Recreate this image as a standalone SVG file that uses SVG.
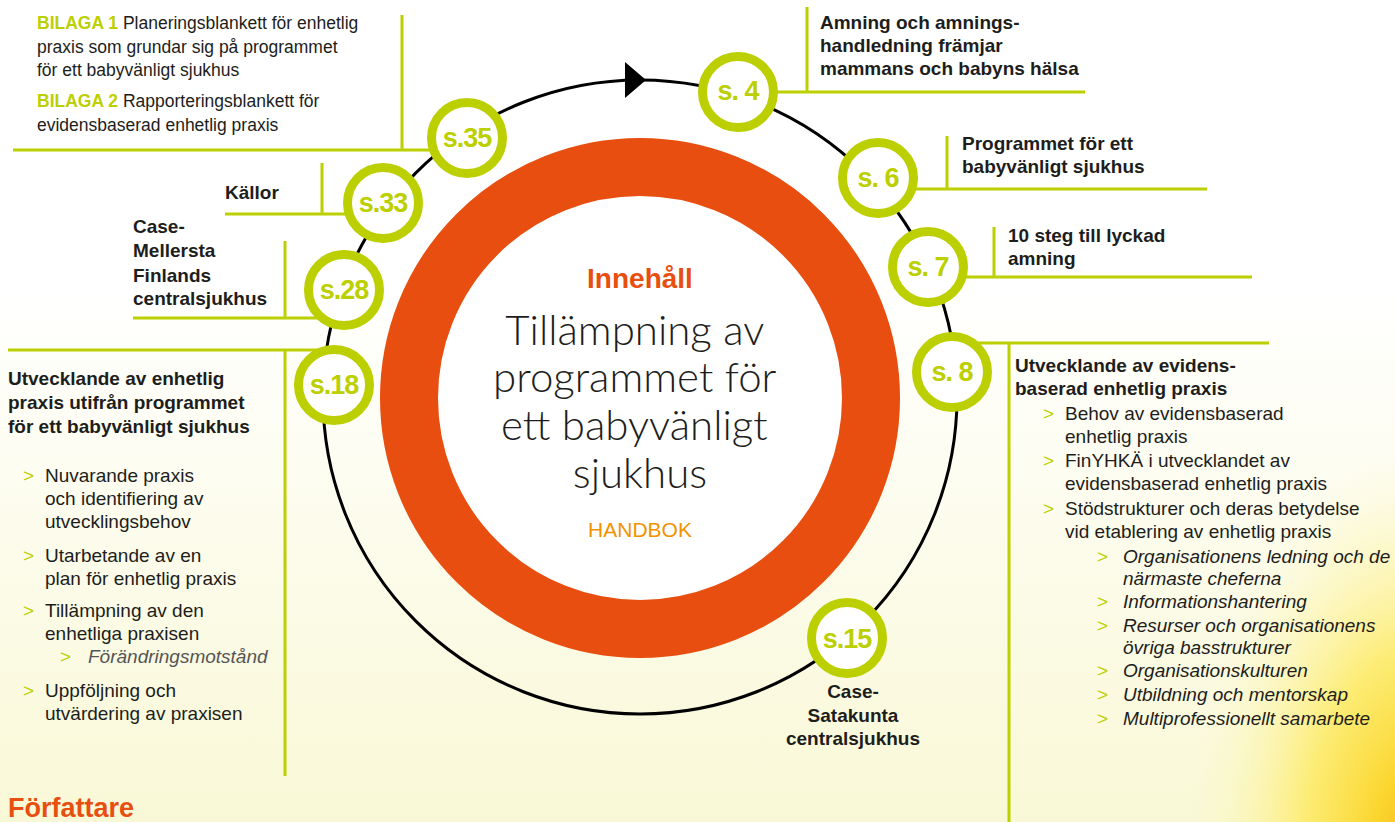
<svg xmlns="http://www.w3.org/2000/svg" width="1395" height="822" viewBox="0 0 1395 822">
<defs>
<linearGradient id="bg" x1="0" y1="0" x2="0" y2="1">
<stop offset="0" stop-color="#ffffff"/>
<stop offset="0.35" stop-color="#ffffff"/>
<stop offset="1" stop-color="#f9f8d6"/>
</linearGradient>
<radialGradient id="glow" cx="0.5" cy="0.5" r="0.5">
<stop offset="0" stop-color="#f6b324"/>
<stop offset="0.2" stop-color="#fbd52c"/>
<stop offset="0.5" stop-color="#fde95a" stop-opacity="0.8"/>
<stop offset="0.8" stop-color="#fdf4a0" stop-opacity="0.35"/>
<stop offset="1" stop-color="#fdf8c0" stop-opacity="0"/>
</radialGradient>
<style>
.conn{stroke:#bccf00;stroke-width:3;fill:none;stroke-linecap:butt}
.gc{fill:#ffffff;stroke:#bccf00;stroke-width:9}
.num{font-family:"Liberation Sans",Arial,sans-serif;font-weight:bold;font-size:27px;fill:#bccf00;text-anchor:middle;letter-spacing:-1px}
.hd{font-family:"Liberation Sans",Arial,sans-serif;font-weight:bold;font-size:19px;fill:#1d1d1b}
.bd{font-family:"Liberation Sans",Arial,sans-serif;font-size:19px;fill:#1d1d1b}
.it{font-family:"Liberation Sans",Arial,sans-serif;font-style:italic;font-size:19px;fill:#1d1d1b}
.sm{font-family:"Liberation Sans",Arial,sans-serif;font-size:17.5px;fill:#1d1d1b}
.gb{fill:#bccf00;font-weight:bold}
.ar{font-family:"Liberation Sans",Arial,sans-serif;font-size:19px;fill:#bccf00}
</style>
</defs>

<g id="background">
<rect x="0" y="0" width="1395" height="822" fill="url(#bg)"/>
<ellipse cx="1420" cy="850" rx="230" ry="400" fill="url(#glow)"/>
</g>

<g id="cycle">
<circle cx="640" cy="397" r="317" fill="none" stroke="#000000" stroke-width="3"/>
<polygon points="625,62 646,80 625,98" fill="#000000"/>
</g>

<g id="center">
<circle cx="640" cy="398" r="231" fill="#ffffff" stroke="#e84e10" stroke-width="58"/>
<text x="640" y="288" text-anchor="middle" font-family="'Liberation Sans',Arial,sans-serif" font-weight="bold" font-size="28" fill="#e84e10">Innehåll</text>
<text text-anchor="middle" font-family="Lato,'Liberation Sans',sans-serif" font-weight="300" font-size="42" fill="#1d1d1b">
<tspan x="640" y="345">Tillämpning av</tspan>
<tspan x="640" y="392">programmet för</tspan>
<tspan x="640" y="440">ett babyvänligt</tspan>
<tspan x="640" y="488">sjukhus</tspan>
</text>
<text x="640" y="537" text-anchor="middle" font-family="'Liberation Sans',Arial,sans-serif" font-size="21" fill="#f39200">HANDBOK</text>
</g>

<g id="connectors">
<path class="conn" d="M13,150 H467 M402,15 V150"/>
<path class="conn" d="M738,92 H1085 M807,7 V92"/>
<path class="conn" d="M878,189 H1207 M947,136 V189"/>
<path class="conn" d="M928,277 H1252 M994,227 V277"/>
<path class="conn" d="M952,343 H1269 M1009,343 V822"/>
<path class="conn" d="M225,214 H383 M322,163 V214"/>
<path class="conn" d="M133,318 H344 M285,241 V318"/>
<path class="conn" d="M8,350 H334 M285,350 V776"/>
</g>

<g id="node-s4">
<circle class="gc" cx="738" cy="92" r="35.5"/>
<text class="num" x="738" y="100">s. 4</text>
<text class="hd"><tspan x="820" y="29">Amning och amnings-</tspan><tspan x="820" y="52">handledning främjar</tspan><tspan x="820" y="75">mammans och babyns hälsa</tspan></text>
</g>

<g id="node-s6">
<circle class="gc" cx="878" cy="178" r="35.5"/>
<text class="num" x="878" y="187">s. 6</text>
<text class="hd"><tspan x="962" y="150">Programmet för ett</tspan><tspan x="962" y="173">babyvänligt sjukhus</tspan></text>
</g>

<g id="node-s7">
<circle class="gc" cx="928" cy="267" r="35.5"/>
<text class="num" x="928" y="276">s. 7</text>
<text class="hd"><tspan x="1008" y="242">10 steg till lyckad</tspan><tspan x="1008" y="265">amning</tspan></text>
</g>

<g id="node-s8">
<circle class="gc" cx="952" cy="372" r="35.5"/>
<text class="num" x="952" y="381">s. 8</text>
<text class="hd"><tspan x="1015" y="372">Utvecklande av evidens-</tspan><tspan x="1015" y="395">baserad enhetlig praxis</tspan></text>
<text class="ar"><tspan x="1043" y="420">&gt;</tspan><tspan x="1043" y="467">&gt;</tspan><tspan x="1043" y="515">&gt;</tspan></text>
<text class="bd"><tspan x="1065" y="420">Behov av evidensbaserad</tspan><tspan x="1065" y="443">enhetlig praxis</tspan><tspan x="1065" y="467">FinYHKÄ i utvecklandet av</tspan><tspan x="1065" y="490">evidensbaserad enhetlig praxis</tspan><tspan x="1065" y="515">Stödstrukturer och deras betydelse</tspan><tspan x="1065" y="538">vid etablering av enhetlig praxis</tspan></text>
<text class="ar"><tspan x="1097" y="563">&gt;</tspan><tspan x="1097" y="608">&gt;</tspan><tspan x="1097" y="632">&gt;</tspan><tspan x="1097" y="677">&gt;</tspan><tspan x="1097" y="701">&gt;</tspan><tspan x="1097" y="725">&gt;</tspan></text>
<text class="it"><tspan x="1123" y="563">Organisationens ledning och de</tspan><tspan x="1123" y="585">närmaste cheferna</tspan><tspan x="1123" y="608">Informationshantering</tspan><tspan x="1123" y="632">Resurser och organisationens</tspan><tspan x="1123" y="654">övriga basstrukturer</tspan><tspan x="1123" y="677">Organisationskulturen</tspan><tspan x="1123" y="701">Utbildning och mentorskap</tspan><tspan x="1123" y="725">Multiprofessionellt samarbete</tspan></text>
</g>

<g id="node-s15">
<circle class="gc" cx="847" cy="638" r="35.5"/>
<text class="num" x="847" y="648">s.15</text>
<text class="hd" text-anchor="middle"><tspan x="853" y="698">Case-</tspan><tspan x="853" y="722">Satakunta</tspan><tspan x="853" y="745">centralsjukhus</tspan></text>
</g>

<g id="node-s18">
<circle class="gc" cx="334" cy="385" r="35.5"/>
<text class="num" x="334" y="394">s.18</text>
<text class="hd"><tspan x="8" y="385">Utvecklande av enhetlig</tspan><tspan x="8" y="409">praxis utifrån programmet</tspan><tspan x="8" y="433">för ett babyvänligt sjukhus</tspan></text>
<text class="ar"><tspan x="23" y="482">&gt;</tspan><tspan x="23" y="562">&gt;</tspan><tspan x="23" y="617">&gt;</tspan><tspan x="60" y="663">&gt;</tspan><tspan x="23" y="697">&gt;</tspan></text>
<text class="bd"><tspan x="45" y="482">Nuvarande praxis</tspan><tspan x="45" y="505">och identifiering av</tspan><tspan x="45" y="528">utvecklingsbehov</tspan><tspan x="45" y="562">Utarbetande av en</tspan><tspan x="45" y="585">plan för enhetlig praxis</tspan><tspan x="45" y="617">Tillämpning av den</tspan><tspan x="45" y="640">enhetliga praxisen</tspan><tspan x="45" y="697">Uppföljning och</tspan><tspan x="45" y="720">utvärdering av praxisen</tspan></text>
<text class="it" x="88" y="663" fill="#555555" style="fill:#555555">Förändringsmotstånd</text>
</g>

<g id="node-s28">
<circle class="gc" cx="344" cy="290" r="35.5"/>
<text class="num" x="344" y="299">s.28</text>
<text class="hd"><tspan x="133" y="233">Case-</tspan><tspan x="133" y="257">Mellersta</tspan><tspan x="133" y="282">Finlands</tspan><tspan x="133" y="305">centralsjukhus</tspan></text>
</g>

<g id="node-s33">
<circle class="gc" cx="383" cy="203" r="35.5"/>
<text class="num" x="383" y="212">s.33</text>
<text class="hd" x="225" y="199">Källor</text>
</g>

<g id="node-s35">
<circle class="gc" cx="467" cy="138" r="35.5"/>
<text class="num" x="467" y="147">s.35</text>
<text class="sm"><tspan x="37" y="29"><tspan class="gb">BILAGA 1</tspan> Planeringsblankett för enhetlig</tspan><tspan x="37" y="53">praxis som grundar sig på programmet</tspan><tspan x="37" y="76">för ett babyvänligt sjukhus</tspan><tspan x="37" y="107"><tspan class="gb">BILAGA 2</tspan> Rapporteringsblankett för</tspan><tspan x="37" y="131">evidensbaserad enhetlig praxis</tspan></text>
</g>

<g id="footer">
<text x="8" y="817" font-family="'Liberation Sans',Arial,sans-serif" font-weight="bold" font-size="27" fill="#e84e10">Författare</text>
</g>
</svg>
